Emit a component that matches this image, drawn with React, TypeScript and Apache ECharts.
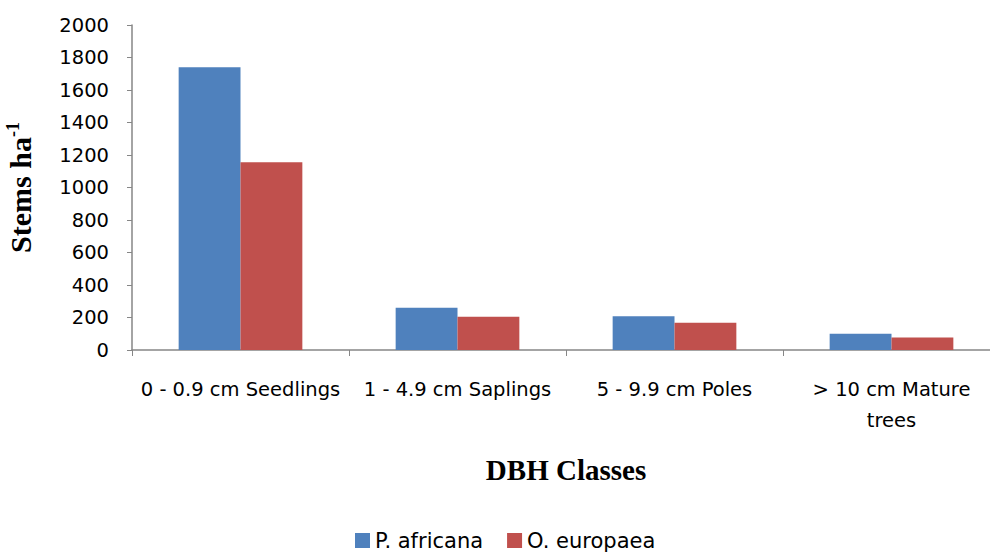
import React, { useEffect, useRef } from "react";
import * as echarts from "echarts";

const categories = ["0 - 0.9 cm Seedlings", "1 - 4.9 cm Saplings", "5 - 9.9 cm Poles", "> 10 cm Mature\ntrees"];
const pAfricana = [1740, 260, 208, 100];
const oEuropaea = [1155, 205, 168, 77];
const seriesNames = ["P. africana", "O. europaea"];
const yTicks = { min: 0, max: 2000, interval: 200 };

export default function App() {
  const ref = useRef<HTMLDivElement>(null);
  useEffect(() => {
    document.body.style.margin = "0";
    const chart = echarts.init(ref.current!, null, { renderer: "svg" });
    const labelFont = "'DejaVu Sans', sans-serif";
    const serif = "'Liberation Serif', 'Times New Roman', serif";
    chart.setOption({
      animation: false,
      backgroundColor: "#ffffff",
      grid: {
        left: 132,
        width: 868,
        top: 25,
        height: 325,
        containLabel: false,
        outerBoundsMode: "none",
      },
      legend: {
        top: 525,
        left: 350,
        itemWidth: 15,
        itemHeight: 15,
        itemGap: 24,
        icon: "rect",
        textStyle: { fontFamily: labelFont, fontSize: 21, color: "#000" },
        data: seriesNames,
      },
      xAxis: {
        type: "category",
        data: categories,
        axisLine: { lineStyle: { color: "#868686", width: 1.5 } },
        axisTick: { show: true, length: 6, alignWithLabel: false, lineStyle: { color: "#868686" } },
        axisLabel: {
          interval: 0,
          color: "#000",
          fontFamily: labelFont,
          fontSize: 19.5,
          lineHeight: 31,
          margin: 24,
          align: "center",
        },
        name: "DBH Classes",
        nameLocation: "middle",
        nameGap: 105,
        nameTextStyle: {
          fontFamily: serif,
          fontWeight: "bold",
          fontSize: 29,
          color: "#000",
        },
      },
      yAxis: {
        type: "value",
        min: yTicks.min,
        max: yTicks.max,
        interval: yTicks.interval,
        splitLine: { show: false },
        axisLine: { show: true, lineStyle: { color: "#868686", width: 1.5 } },
        axisTick: { show: true, length: 5, inside: false, lineStyle: { color: "#868686" } },
        axisLabel: {
          color: "#000",
          fontFamily: labelFont,
          fontSize: 19.5,
          margin: 23,
          formatter: (v: number) => String(v),
        },
        name: "{a|Stems ha}{b|-1}",
        nameLocation: "middle",
        nameRotate: 90,
        nameGap: 96,
        nameTextStyle: {
          rich: {
            a: {
              fontFamily: serif,
              fontWeight: "bold",
              fontSize: 30,
              color: "#000",
            },
            b: {
              fontFamily: serif,
              fontWeight: "bold",
              fontSize: 18,
              color: "#000",
              padding: [0, 0, 14, 0],
            },
          },
        },
      },
      series: [
        {
          name: seriesNames[0],
          type: "bar",
          data: pAfricana,
          itemStyle: { color: "#4F81BD" },
          barGap: "0%",
          barCategoryGap: "43%",
        },
        {
          name: seriesNames[1],
          type: "bar",
          data: oEuropaea,
          itemStyle: { color: "#C0504D" },
          barGap: "0%",
          barCategoryGap: "43%",
        },
      ],
    });
    return () => chart.dispose();
  }, []);
  return <div ref={ref} style={{ width: 990, height: 552, position: "absolute", left: 0, top: 0 }} />;
}
